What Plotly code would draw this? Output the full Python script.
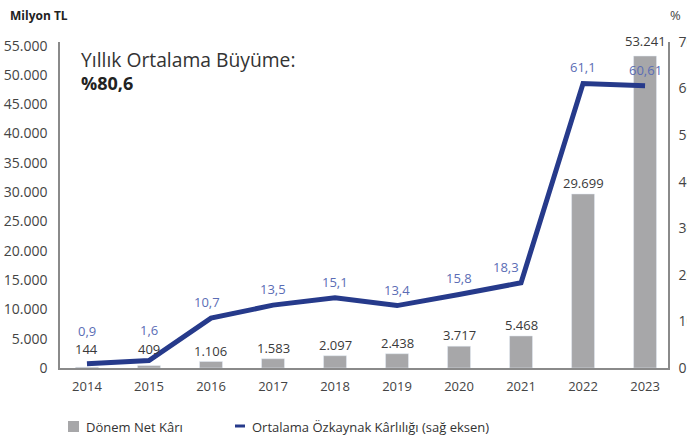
import plotly.graph_objects as go

years = [2014, 2015, 2016, 2017, 2018, 2019, 2020, 2021, 2022, 2023]
net_profit = [144, 409, 1106, 1583, 2097, 2438, 3717, 5468, 29699, 53241]
roe = [0.9, 1.6, 10.7, 13.5, 15.1, 13.4, 15.8, 18.3, 61.1, 60.61]
left_ticks = [0, 5000, 10000, 15000, 20000, 25000, 30000, 35000, 40000, 45000, 50000, 55000]
right_ticks = [0, 10, 20, 30, 40, 50, 60, 70]
bar_name = "Dönem Net Kârı"
line_name = "Ortalama Özkaynak Kârlılığı (sağ eksen)"

FONT = "Open Sans"
BAR_C = "#a7a7a9"
LINE_C = "#263a8b"
LBL_C = "#5b6db5"
AX_C = "#8a8a8a"
TXT_C = "#444444"

# plot-area geometry in pixels (for placing decorations outside the axes)
L, R, T, B = 60, 668, 42, 368
def px(x):
    return (x - L) / (R - L)
def py(y):
    return (B - y) / (B - T)

def tr_int(v):
    return f"{v:,}".replace(",", ".")

def tr_dec(v):
    return str(v).replace(".", ",")

fig = go.Figure()
fig.add_trace(go.Bar(
    x=years, y=net_profit, name=bar_name, marker_color=BAR_C,
    width=0.37, yaxis="y", hoverinfo="skip", showlegend=False))
fig.add_trace(go.Scatter(
    x=years, y=roe, name=line_name, mode="lines",
    line=dict(color=LINE_C, width=5), yaxis="y2", hoverinfo="skip", showlegend=False))

ann = []
bar_shift = [7, 6, 0, 0, 0, 0, 0, 0, 0, 4]
for yr, v, s in zip(years, net_profit, bar_shift):
    ann.append(dict(x=yr, y=v, xref="x", yref="y", text=tr_int(v), showarrow=False,
                    yanchor="bottom", yshift=s, font=dict(family=FONT, size=13, color="#3a3a3a")))
line_shift = [33, 31, 16, 16, 16, 16, 16, 16, 16, 16]
line_xshift = [0, 0, -4, 0, 0, 0, 0, -15, 0, 0]
for yr, v, s, xs in zip(years, roe, line_shift, line_xshift):
    ann.append(dict(x=yr, y=v, xref="x", yref="y2", text=tr_dec(v), showarrow=False,
                    yanchor="middle", yshift=s, xshift=xs,
                    font=dict(family=FONT, size=13, color=LBL_C)))

ann.append(dict(x=px(79), y=py(59), xref="paper", yref="paper", xanchor="left", yanchor="middle",
                text="Yıllık Ortalama Büyüme:", showarrow=False,
                font=dict(family=FONT, size=19.3, color="#333333")))
ann.append(dict(x=px(79), y=py(83), xref="paper", yref="paper", xanchor="left", yanchor="middle",
                text="<b>%80,6</b>", showarrow=False,
                font=dict(family=FONT, size=18, color="#222222")))
ann.append(dict(x=px(8), y=py(15), xref="paper", yref="paper", xanchor="left", yanchor="middle",
                text="<b>Milyon TL</b>", showarrow=False,
                font=dict(family=FONT, size=12, color="#222222")))
ann.append(dict(x=px(668), y=py(15), xref="paper", yref="paper", xanchor="left", yanchor="middle",
                text="%", showarrow=False,
                font=dict(family=FONT, size=13, color=TXT_C)))
# manual legend
ann.append(dict(x=px(84), y=py(427), xref="paper", yref="paper", xanchor="left", yanchor="middle",
                text=bar_name, showarrow=False,
                font=dict(family=FONT, size=13, color="#333333")))
ann.append(dict(x=px(250), y=py(427), xref="paper", yref="paper", xanchor="left", yanchor="middle",
                text=line_name, showarrow=False,
                font=dict(family=FONT, size=13, color="#333333")))
shapes = [
    dict(type="rect", xref="paper", yref="paper", x0=px(68), x1=px(79), y0=py(432), y1=py(421),
         fillcolor=BAR_C, line=dict(width=0)),
    dict(type="line", xref="paper", yref="paper", x0=px(235), x1=px(245), y0=py(426), y1=py(426),
         line=dict(color=LINE_C, width=3)),
]

fig.update_layout(
    width=687, height=436,
    margin=dict(l=L, r=687 - R, t=T, b=436 - B, autoexpand=False),
    paper_bgcolor="white", plot_bgcolor="white",
    font=dict(family=FONT, size=13, color=TXT_C),
    showlegend=False,
    xaxis=dict(range=[2013.565, 2023.37], tickmode="array", tickvals=years,
               ticktext=[str(y) for y in years], showgrid=False, zeroline=False,
               showline=True, linecolor=AX_C, linewidth=1.5, ticks="", automargin=False,
               ticklabelstandoff=6,
               tickfont=dict(family=FONT, size=13, color=TXT_C)),
    yaxis=dict(range=[0, 55630], tickmode="array", tickvals=left_ticks,
               ticktext=[tr_int(t) for t in left_ticks], showgrid=False, zeroline=False,
               showline=True, linecolor=AX_C, linewidth=1.5, ticks="", ticklabelstandoff=8,
               automargin=False,
               tickfont=dict(family=FONT, size=14, color=TXT_C)),
    yaxis2=dict(range=[0, 70], overlaying="y", side="right", tickmode="array",
                tickvals=right_ticks, ticktext=[str(t) for t in right_ticks],
                showgrid=False, zeroline=False, showline=True, linecolor=AX_C,
                linewidth=1.5, ticks="", ticklabelstandoff=6, automargin=False,
                tickfont=dict(family=FONT, size=14, color=TXT_C)),
    annotations=ann,
    shapes=shapes,
)

fig.write_html("out.html", config={"displayModeBar": False},
               post_script="document.body.style.margin='0px';")
